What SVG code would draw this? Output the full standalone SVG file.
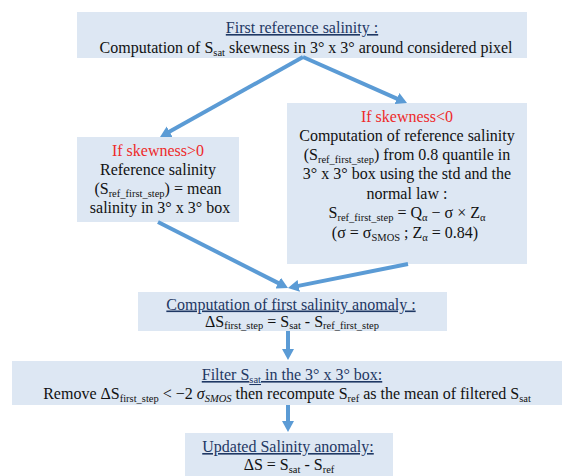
<svg xmlns="http://www.w3.org/2000/svg" width="562" height="476" viewBox="0 0 562 476">
<style>
.box{fill:#dde7f3;stroke:none}
text{font-family:"Liberation Serif","Times New Roman",serif;font-size:16px;fill:#111;text-anchor:middle}
.ttl{fill:#1f3864;text-decoration:underline}
.red{fill:#ee2a2a}
.sub{font-size:10.5px}
.conn{stroke:#5b9bd5;stroke-width:4;fill:none}
</style>
<defs>
<marker id="ah" markerUnits="userSpaceOnUse" markerWidth="12" markerHeight="12" refX="3" refY="6" orient="auto">
<path d="M0,0 L11,6 L0,12 z" fill="#5b9bd5"/>
</marker>
</defs>
<g id="n1">
<rect class="box" x="77" y="12" width="450" height="46"/>
<text class="ttl" x="302" y="33">First reference salinity :</text>
<text x="306" y="53">Computation of S<tspan class="sub" dy="3">sat</tspan><tspan dy="-3"> skewness in 3° x 3° around considered pixel</tspan></text>
</g>
<g id="n2">
<rect class="box" x="77" y="137" width="162" height="85"/>
<text class="red" x="158" y="156">If skewness&gt;0</text>
<text x="158" y="175">Reference salinity</text>
<text x="158" y="194">(S<tspan class="sub" dy="3">ref_first_step</tspan><tspan dy="-3">) = mean</tspan></text>
<text x="160" y="213">salinity in 3° x 3° box</text>
</g>
<g id="n3">
<rect class="box" x="287" y="103" width="240" height="161"/>
<text class="red" x="407" y="122">If skewness&lt;0</text>
<text x="407" y="141">Computation of reference salinity</text>
<text x="407" y="160">(S<tspan class="sub" dy="3">ref_first_step</tspan><tspan dy="-3">) from 0.8 quantile in</tspan></text>
<text x="407" y="179">3° x 3° box using the std and the</text>
<text x="407" y="199">normal law :</text>
<text x="407" y="218">S<tspan class="sub" dy="3">ref_first_step</tspan><tspan dy="-3"> = Q</tspan><tspan class="sub" dy="3">α</tspan><tspan dy="-3"> − σ × Z</tspan><tspan class="sub" dy="3">α</tspan></text>
<text x="405" y="238">(σ = σ<tspan class="sub" dy="3">SMOS</tspan><tspan dy="-3"> ; Z</tspan><tspan class="sub" dy="3">α</tspan><tspan dy="-3"> = 0.84)</tspan></text>
</g>
<g id="n4">
<rect class="box" x="138" y="292" width="309" height="39"/>
<text class="ttl" x="291" y="309.5">Computation of first salinity anomaly :</text>
<text x="292" y="326.5">ΔS<tspan class="sub" dy="2.5">first_step</tspan><tspan dy="-2.5"> = S</tspan><tspan class="sub" dy="2.5">sat</tspan><tspan dy="-2.5"> - S</tspan><tspan class="sub" dy="2.5">ref_first_step</tspan></text>
</g>
<g id="n5">
<rect class="box" x="12" y="361" width="550" height="44"/>
<text class="ttl" x="292" y="380">Filter S<tspan class="sub" dy="3">sat</tspan><tspan dy="-3"> in the 3° x 3° box:</tspan></text>
<text x="287" y="399">Remove ΔS<tspan class="sub" dy="3">first_step</tspan><tspan dy="-3"> &lt; −2 </tspan><tspan font-style="italic">σ</tspan><tspan class="sub" font-style="italic" dy="3">SMOS</tspan><tspan dy="-3"> then recompute S</tspan><tspan class="sub" dy="3">ref</tspan><tspan dy="-3"> as the mean of filtered S</tspan><tspan class="sub" dy="3">sat</tspan></text>
</g>
<g id="n6">
<rect class="box" x="185" y="433" width="208" height="43"/>
<text class="ttl" x="288" y="452">Updated Salinity anomaly:</text>
<text x="289" y="470">ΔS = S<tspan class="sub" dy="3">sat</tspan><tspan dy="-3"> - S</tspan><tspan class="sub" dy="3">ref</tspan></text>
</g>
<g id="connectors">
<line class="conn" x1="303" y1="57" x2="167" y2="133.1" marker-end="url(#ah)"/>
<line class="conn" x1="303" y1="57" x2="399.7" y2="99.8" marker-end="url(#ah)"/>
<line class="conn" x1="158" y1="222" x2="280.9" y2="284.4" marker-end="url(#ah)"/>
<line class="conn" x1="408" y1="264" x2="295.8" y2="286.4" marker-end="url(#ah)"/>
<line class="conn" x1="288" y1="331" x2="288" y2="352" marker-end="url(#ah)"/>
<line class="conn" x1="288" y1="405" x2="288" y2="424" marker-end="url(#ah)"/>
</g>
</svg>
